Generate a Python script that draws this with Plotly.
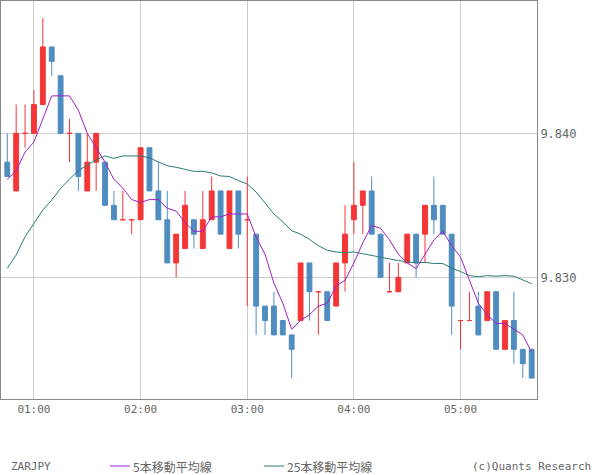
import pandas as pd
import plotly.graph_objects as go

# ---- data ----
symbol = "ZARJPY"
start_time = "2024-01-01 00:45"
n_candles = 60
times = list(pd.date_range(start_time, periods=n_candles, freq="5min"))

opens = [9.838, 9.836, 9.840, 9.840, 9.842, 9.846, 9.844, 9.840, 9.840, 9.836,
         9.838, 9.838, 9.835, 9.834, 9.834, 9.834, 9.839, 9.836, 9.834, 9.831,
         9.832, 9.834, 9.832, 9.834, 9.836, 9.832, 9.836, 9.834, 9.833, 9.828,
         9.828, 9.827, 9.826, 9.827, 9.831, 9.829, 9.829, 9.828, 9.831, 9.834,
         9.835, 9.836, 9.833, 9.829, 9.829, 9.831, 9.833, 9.833, 9.835, 9.835,
         9.833, 9.827, 9.827, 9.828, 9.827, 9.829, 9.825, 9.827, 9.825, 9.825]
highs = [9.840, 9.842, 9.842, 9.843, 9.848, 9.846, 9.844, 9.841, 9.840, 9.840,
         9.840, 9.838, 9.836, 9.836, 9.834, 9.839, 9.839, 9.838, 9.836, 9.833,
         9.836, 9.834, 9.836, 9.837, 9.836, 9.836, 9.836, 9.837, 9.833, 9.828,
         9.829, 9.827, 9.826, 9.831, 9.831, 9.829, 9.829, 9.831, 9.835, 9.838,
         9.836, 9.837, 9.833, 9.831, 9.831, 9.833, 9.833, 9.835, 9.837, 9.835,
         9.833, 9.827, 9.829, 9.829, 9.829, 9.829, 9.827, 9.829, 9.825, 9.825]
lows = [9.837, 9.836, 9.839, 9.840, 9.842, 9.844, 9.840, 9.838, 9.836, 9.836,
        9.836, 9.835, 9.834, 9.834, 9.833, 9.834, 9.836, 9.834, 9.831, 9.830,
        9.832, 9.832, 9.832, 9.834, 9.833, 9.832, 9.832, 9.828, 9.826, 9.826,
        9.826, 9.826, 9.823, 9.827, 9.827, 9.826, 9.827, 9.828, 9.829, 9.833,
        9.833, 9.833, 9.830, 9.829, 9.829, 9.831, 9.830, 9.831, 9.833, 9.833,
        9.826, 9.825, 9.827, 9.826, 9.827, 9.825, 9.825, 9.824, 9.823, 9.823]
closes = [9.837, 9.840, 9.840, 9.842, 9.846, 9.845, 9.840, 9.840, 9.837, 9.838,
          9.840, 9.835, 9.834, 9.834, 9.834, 9.839, 9.836, 9.834, 9.831, 9.833,
          9.835, 9.833, 9.834, 9.836, 9.833, 9.836, 9.833, 9.834, 9.828, 9.827,
          9.826, 9.826, 9.825, 9.831, 9.829, 9.829, 9.827, 9.831, 9.833, 9.835,
          9.836, 9.833, 9.830, 9.829, 9.830, 9.833, 9.831, 9.835, 9.834, 9.833,
          9.828, 9.827, 9.827, 9.826, 9.829, 9.825, 9.827, 9.825, 9.824, 9.823]

ma5 = [9.8368, 9.8374, 9.8387, 9.8394, 9.8410, 9.8426, 9.8426, 9.8426, 9.8416, 9.8400,
       9.8390, 9.8380, 9.8368, 9.8362, 9.8354, 9.8352, 9.8354, 9.8354, 9.8348, 9.8346,
       9.8338, 9.8332, 9.8332, 9.8342, 9.8342, 9.8344, 9.8344, 9.8344, 9.8328, 9.8316,
       9.8296, 9.8282, 9.8264, 9.8270, 9.8274, 9.8280, 9.8282, 9.8294, 9.8298, 9.8310,
       9.8324, 9.8336, 9.8334, 9.8326, 9.8316, 9.8310, 9.8306, 9.8316, 9.8326, 9.8332,
       9.8322, 9.8314, 9.8298, 9.8282, 9.8274, 9.8268, 9.8268, 9.8264, 9.8260, 9.8248]
ma25 = [9.83063, 9.83155, 9.83282, 9.83375, 9.83468, 9.83537, 9.83618, 9.83683, 9.83741, 9.83780,
        9.83815, 9.83843, 9.83826, 9.83843, 9.83843, 9.83843, 9.83829, 9.83803, 9.83775, 9.83764,
        9.83750, 9.83736, 9.83736, 9.83725, 9.83704, 9.83700, 9.83672, 9.83648, 9.83592, 9.83516,
        9.83440, 9.83384, 9.83324, 9.83300, 9.83264, 9.83220, 9.83188, 9.83176, 9.83172, 9.83176,
        9.83164, 9.83152, 9.83136, 9.83128, 9.83116, 9.83108, 9.83100, 9.83104, 9.83096, 9.83096,
        9.83064, 9.83040, 9.83012, 9.83004, 9.83012, 9.83008, 9.83012, 9.83008, 9.82980, 9.82956]

y_tick_vals = [9.830, 9.840]
y_tick_text = ["9.830", "9.840"]
x_tick_vals = ["2024-01-01 01:00", "2024-01-01 02:00", "2024-01-01 03:00",
               "2024-01-01 04:00", "2024-01-01 05:00"]
x_tick_text = ["01:00", "02:00", "03:00", "04:00", "05:00"]
legend_ma5 = "5本移動平均線"
legend_ma25 = "25本移動平均線"
credit = "(c)Quants Research"

# ---- styles ----
RED = "#F53636"
BLUE = "#4F8DC0"
PURPLE = "#A020C8"
TEAL = "#2B7C76"
GRID = "#CCCCCC"
BORDER = "#888888"
TXT = "#666666"
MONO = "DejaVu Sans Mono, Noto Sans CJK JP, monospace"
CJK = "Noto Sans CJK JP, DejaVu Sans Mono, sans-serif"

up_idx = [i for i in range(n_candles) if closes[i] >= opens[i]]
dn_idx = [i for i in range(n_candles) if closes[i] < opens[i]]


def sub(arr, idx):
    return [arr[i] for i in idx]


fig = go.Figure()
for idx, col in ((up_idx, RED), (dn_idx, BLUE)):
    fig.add_trace(go.Candlestick(
        x=sub(times, idx), open=sub(opens, idx), high=sub(highs, idx),
        low=sub(lows, idx), close=sub(closes, idx),
        increasing=dict(line=dict(color=col, width=1), fillcolor=col),
        decreasing=dict(line=dict(color=col, width=1), fillcolor=col),
        whiskerwidth=0, showlegend=False, hoverinfo="skip",
    ))

fig.add_trace(go.Scatter(x=times, y=ma25, mode="lines",
                         line=dict(color=TEAL, width=1), showlegend=False,
                         name=legend_ma25))
fig.add_trace(go.Scatter(x=times, y=ma5, mode="lines",
                         line=dict(color=PURPLE, width=1), showlegend=False,
                         name=legend_ma5))

# plot area: px x 1..537, px y 1..399
def px_x(p):
    return (p - 1) / 536.0


def px_y(p):
    return (399 - p) / 398.0


leg_y = px_y(466)
annotations = [
    dict(text=symbol, x=px_x(9), y=leg_y, xanchor="left", yanchor="middle",
         font=dict(family=MONO, size=11, color=TXT)),
    dict(text=legend_ma5, x=px_x(131), y=leg_y, xanchor="left", yanchor="middle",
         font=dict(family=CJK, size=12, color=TXT)),
    dict(text=legend_ma25, x=px_x(285), y=leg_y, xanchor="left", yanchor="middle",
         font=dict(family=CJK, size=12, color=TXT)),
    dict(text=credit, x=px_x(593), y=leg_y, xanchor="right", yanchor="middle",
         font=dict(family=MONO, size=11, color=TXT)),
]
for a in annotations:
    a.update(xref="paper", yref="paper", showarrow=False)

shapes = [
    dict(type="line", xref="paper", yref="paper", x0=px_x(110), x1=px_x(130),
         y0=leg_y, y1=leg_y, line=dict(color=PURPLE, width=1)),
    dict(type="line", xref="paper", yref="paper", x0=px_x(264), x1=px_x(284),
         y0=leg_y, y1=leg_y, line=dict(color=TEAL, width=1)),
]

fig.update_layout(
    width=600, height=475,
    margin=dict(l=1, r=63, t=1, b=76),
    paper_bgcolor="white", plot_bgcolor="white",
    boxgap=0.22,
    annotations=annotations, shapes=shapes,
    font=dict(family=MONO, size=11, color=TXT),
    xaxis=dict(
        type="date",
        range=["2024-01-01 00:41:28", "2024-01-01 05:43:00"],
        rangeslider=dict(visible=False),
        tickmode="array", tickvals=x_tick_vals, ticktext=x_tick_text,
        showgrid=True, gridcolor=GRID, gridwidth=1,
        showline=True, mirror=True, linecolor=BORDER, linewidth=1,
        ticks="", zeroline=False,
        tickfont=dict(family=MONO, size=11, color=TXT),
    ),
    yaxis=dict(
        side="right",
        range=[9.82155, 9.84919],
        tickmode="array", tickvals=y_tick_vals, ticktext=y_tick_text,
        showgrid=True, gridcolor=GRID, gridwidth=1,
        showline=True, mirror=True, linecolor=BORDER, linewidth=1,
        ticks="", zeroline=False,
        tickfont=dict(family=MONO, size=12, color=TXT),
    ),
)

fig.write_html(
    "out.html",
    config={"displayModeBar": False},
    post_script="document.body.style.margin='0px';document.body.style.overflow='hidden';",
)
